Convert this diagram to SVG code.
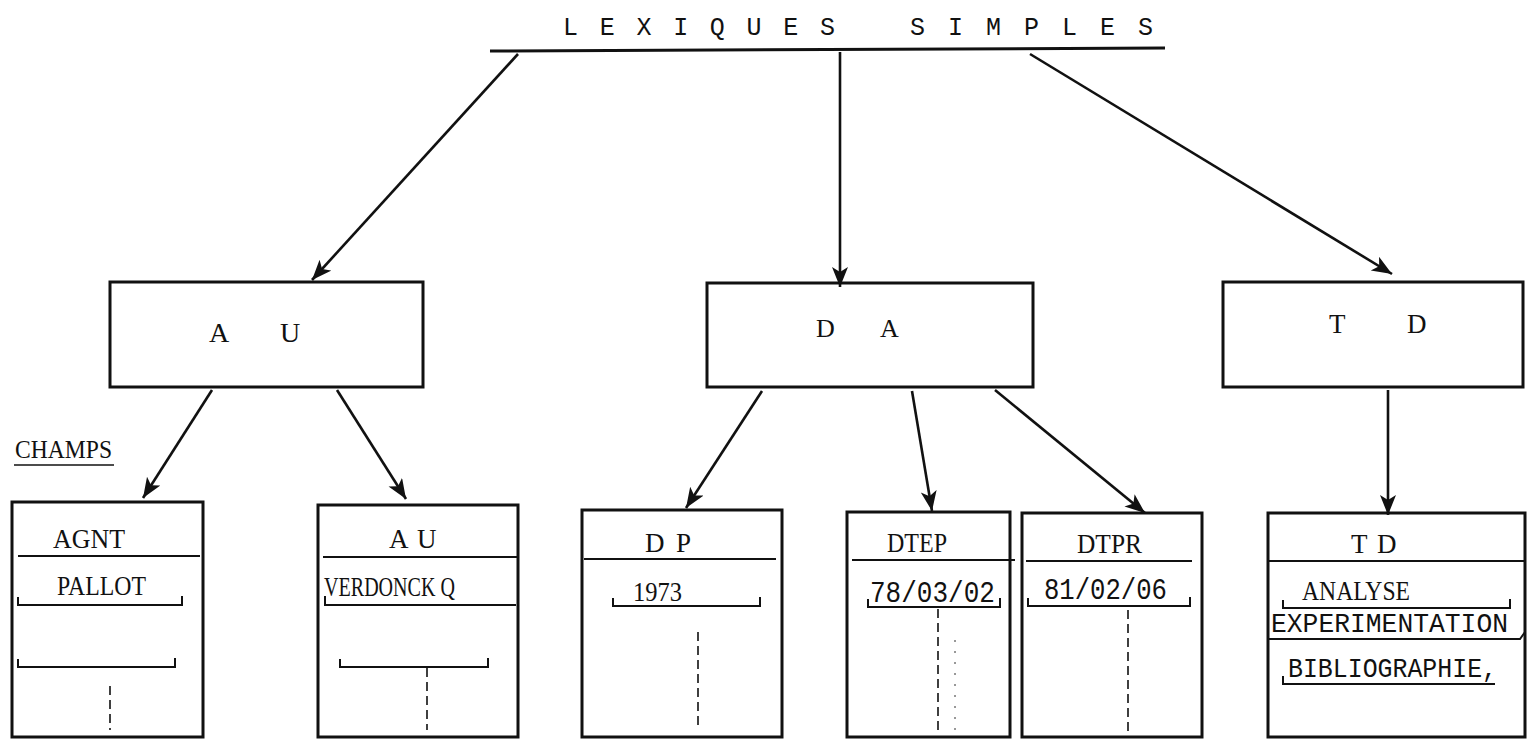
<svg xmlns="http://www.w3.org/2000/svg" width="1527" height="739" viewBox="0 0 1527 739">
<style>
.bg{fill:#fff}
.box{fill:none;stroke:#111;stroke-width:3}
.ln{fill:none;stroke:#111;stroke-width:2}
.br{fill:none;stroke:#111;stroke-width:2}
.dash{fill:none;stroke:#111;stroke-width:1.6;stroke-dasharray:9 5}
.dot{fill:none;stroke:#333;stroke-width:1;stroke-dasharray:2 9}
.ar{fill:none;stroke:#111;stroke-width:2.6;marker-end:url(#ah)}
.s{font-family:"Liberation Serif","Times New Roman",serif;fill:#111}
.m{font-family:"Liberation Mono","Courier New",monospace;fill:#111}
</style>
<defs>
<marker id="ah" markerUnits="userSpaceOnUse" markerWidth="22" markerHeight="18" refX="20" refY="8" orient="auto">
<path d="M0,0 L20,8 L0,16 L5,8 z" fill="#111"/>
</marker>
</defs>
<rect class="bg" width="1527" height="739"/>

<g id="root">
<text class="m" x="563" y="35" font-size="25" textLength="272" lengthAdjust="spacing">L E X I Q U E S</text>
<text class="m" x="910" y="35" font-size="25" textLength="243" lengthAdjust="spacing">S I M P L E S</text>
<line x1="490" y1="51" x2="1165" y2="48" stroke="#111" stroke-width="3"/>
</g>

<g id="champs">
<text class="s" x="15" y="458" font-size="25" textLength="97" lengthAdjust="spacingAndGlyphs">CHAMPS</text>
<line x1="14" y1="465" x2="114" y2="465" stroke="#111" stroke-width="1.5"/>
</g>

<g id="node-AU">
<rect class="box" x="110" y="282" width="313" height="105"/>
<text class="s" x="209" y="342" font-size="28">A</text>
<text class="s" x="280" y="342" font-size="28">U</text>
</g>

<g id="node-DA">
<rect class="box" x="707" y="283" width="326" height="104"/>
<text class="s" x="816" y="337" font-size="26">D</text>
<text class="s" x="880" y="337" font-size="26">A</text>
</g>

<g id="node-TD">
<rect class="box" x="1223" y="282" width="300" height="105"/>
<text class="s" x="1329" y="333" font-size="27">T</text>
<text class="s" x="1407" y="333" font-size="27">D</text>
</g>

<g id="field-AGNT">
<rect class="box" x="12" y="502" width="191" height="235"/>
<line class="ln" x1="18" y1="556" x2="200" y2="556"/>
<text class="s" x="53" y="548" font-size="27" textLength="72" lengthAdjust="spacingAndGlyphs">AGNT</text>
<text class="s" x="57" y="595" font-size="27" textLength="89" lengthAdjust="spacingAndGlyphs">PALLOT</text>
<path class="br" d="M18,597 V605 H182 V596"/>
<path class="br" d="M18,659 V667 H175 V658"/>
<line class="dash" x1="110" y1="686" x2="110" y2="730"/>
</g>

<g id="field-AU">
<rect class="box" x="318" y="505" width="200" height="232"/>
<line class="ln" x1="323" y1="557" x2="518" y2="557"/>
<text class="s" x="389" y="548" font-size="27">A</text>
<text class="s" x="417" y="548" font-size="27">U</text>
<text class="s" x="324" y="596" font-size="27" textLength="131" lengthAdjust="spacingAndGlyphs">VERDONCK  Q</text>
<path class="br" d="M325,596 V605 H516"/>
<path class="br" d="M340,659 V667 H488 V658"/>
<line class="dash" x1="427" y1="668" x2="427" y2="730"/>
</g>

<g id="field-DP">
<rect class="box" x="582" y="510" width="200" height="227"/>
<line class="ln" x1="584" y1="559" x2="776" y2="559"/>
<text class="s" x="645" y="552" font-size="27">D</text>
<text class="s" x="676" y="552" font-size="27">P</text>
<text class="s" x="633" y="601" font-size="28" textLength="49" lengthAdjust="spacingAndGlyphs">1973</text>
<path class="br" d="M613,598 V606 H760 V597"/>
<line class="dash" x1="698" y1="632" x2="698" y2="730"/>
</g>

<g id="field-DTEP">
<rect class="box" x="847" y="512" width="163" height="225"/>
<line class="ln" x1="852" y1="560" x2="1015" y2="560"/>
<text class="s" x="887" y="552" font-size="27" textLength="60" lengthAdjust="spacingAndGlyphs">DTEP</text>
<text class="m" x="870" y="602" font-size="29" textLength="125" lengthAdjust="spacingAndGlyphs">78/03/02</text>
<path class="br" d="M868,599 V607 H1000 V598"/>
<line class="dash" x1="938" y1="609" x2="938" y2="732"/>
<line class="dot" x1="955" y1="640" x2="955" y2="737"/>
</g>

<g id="field-DTPR">
<rect class="box" x="1022" y="513" width="180" height="224"/>
<line class="ln" x1="1026" y1="561" x2="1192" y2="561"/>
<text class="s" x="1077" y="553" font-size="27" textLength="65" lengthAdjust="spacingAndGlyphs">DTPR</text>
<text class="m" x="1044" y="599" font-size="29" textLength="123" lengthAdjust="spacingAndGlyphs">81/02/06</text>
<path class="br" d="M1028,598 V606 H1190 V597"/>
<line class="dash" x1="1128" y1="610" x2="1128" y2="735"/>
</g>

<g id="field-TD">
<rect class="box" x="1268" y="513" width="257" height="224"/>
<line class="ln" x1="1268" y1="561" x2="1525" y2="561"/>
<text class="s" x="1351" y="553" font-size="27">T</text>
<text class="s" x="1377" y="553" font-size="27">D</text>
<text class="s" x="1302" y="600" font-size="27" textLength="108" lengthAdjust="spacingAndGlyphs">ANALYSE</text>
<path class="br" d="M1283,600 V608 H1510 V599"/>
<text class="m" x="1271" y="632" font-size="28" textLength="237" lengthAdjust="spacingAndGlyphs">EXPERIMENTATION</text>
<path class="br" d="M1268,639 H1520 L1525,632"/>
<text class="m" x="1288" y="677" font-size="28" textLength="209" lengthAdjust="spacingAndGlyphs">BIBLIOGRAPHIE,</text>
<path class="br" d="M1283,676 V684 H1495"/>
</g>

<g id="connectors">
<line class="ar" x1="518" y1="54" x2="312" y2="280"/>
<line class="ar" x1="840" y1="52" x2="840" y2="287"/>
<line class="ar" x1="1030" y1="54" x2="1392" y2="274"/>
<line class="ar" x1="212" y1="390" x2="143" y2="498"/>
<line class="ar" x1="337" y1="390" x2="406" y2="499"/>
<line class="ar" x1="762" y1="391" x2="686" y2="508"/>
<line class="ar" x1="912" y1="391" x2="932" y2="511"/>
<line class="ar" x1="995" y1="390" x2="1145" y2="513"/>
<line class="ar" x1="1388" y1="390" x2="1388" y2="515"/>
</g>
</svg>
